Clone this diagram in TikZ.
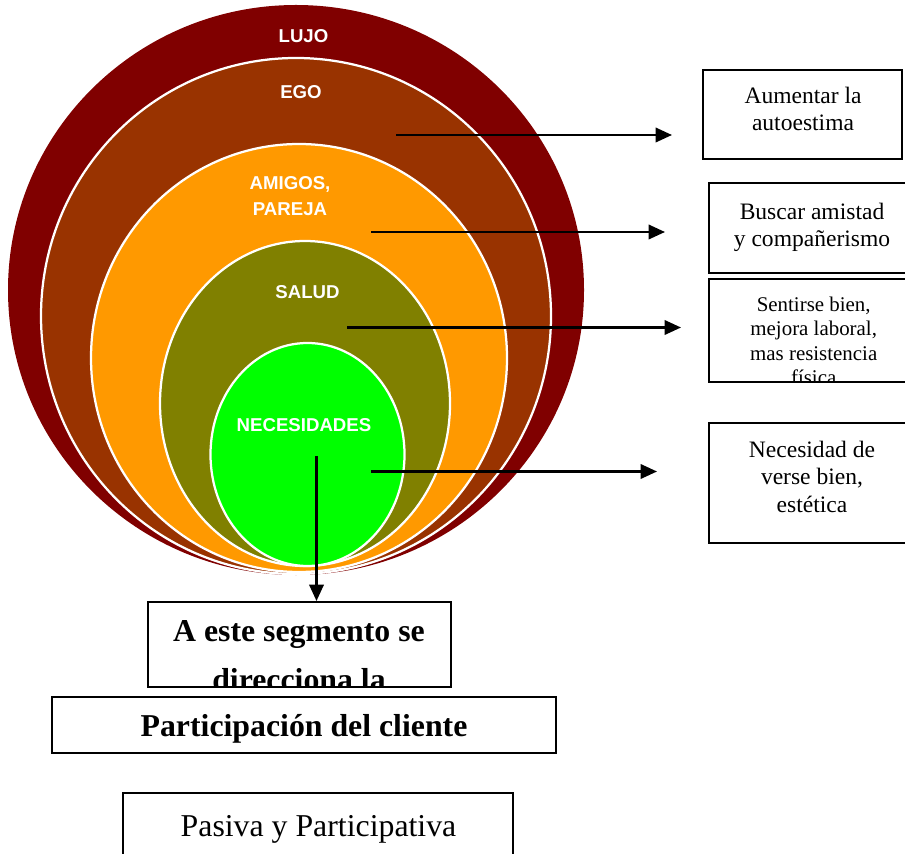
\documentclass[tikz,border=0pt]{standalone}
\usepackage{fontspec}
\setmainfont{Liberation Serif}
\setsansfont{Liberation Sans}
\usetikzlibrary{arrows.meta,positioning}
\definecolor{lujoRed}{HTML}{800000}
\definecolor{egoBrown}{HTML}{993300}
\definecolor{amigosOrange}{HTML}{FF9900}
\definecolor{saludOlive}{HTML}{808000}
\definecolor{necesidadGreen}{HTML}{00FF00}
\tikzset{
  ring/.style={draw=white, line width=0.045cm},
  ringText/.style={text=white, font=\sffamily\bfseries\fontsize{10.6}{14.6}\selectfont, align=center, inner sep=0pt},
  frameBox/.style={draw=black, line width=0.04cm, inner sep=0pt},
  goalText/.style={font=\fontsize{13.4}{15.7}\selectfont, align=center, inner sep=0pt},
  smallText/.style={font=\fontsize{11.9}{13.9}\selectfont, align=center, inner sep=0pt},
  bigText/.style={font=\fontsize{18.1}{28}\selectfont, align=center, inner sep=0pt},
  pointer/.style={line width=0.048cm, -{Triangle[length=0.33cm,width=0.29cm]}},
}
\begin{document}
\begin{tikzpicture}[x=0.02cm,y=-0.02cm]%
\clip (0,0) rectangle (905,854);%
%
\def\ringColor{lujoRed};%
\def\cx{296};%
\def\cy{290};%
\def\rx{288};%
\def\ry{285};%
\fill[\ringColor] (\cx,\cy) ellipse [x radius=\rx, y radius=\ry];%
\node[ringText] (lujo) at (303.5,36) {LUJO};%
%
\def\ringColor{egoBrown};%
\def\cx{296};%
\def\cy{316};%
\def\rx{255};%
\def\ry{258};%
\filldraw[ring, fill=\ringColor] (\cx,\cy) ellipse [x radius=\rx, y radius=\ry];%
\node[ringText] (ego) at (301,92) {EGO};%
%
\def\ringColor{amigosOrange};%
\def\cx{299};%
\def\cy{358};%
\def\rx{208};%
\def\ry{214};%
\filldraw[ring, fill=\ringColor] (\cx,\cy) ellipse [x radius=\rx, y radius=\ry];%
\node[ringText] (amigos) at (290,196) {AMIGOS,\\PAREJA};%
%
\def\ringColor{saludOlive};%
\def\cx{305};%
\def\cy{403.5};%
\def\rx{145};%
\def\ry{162.5};%
\filldraw[ring, fill=\ringColor] (\cx,\cy) ellipse [x radius=\rx, y radius=\ry];%
\node[ringText] (salud) at (307.5,292) {SALUD};%
%
\def\ringColor{necesidadGreen};%
\def\cx{307.5};%
\def\cy{454.5};%
\def\rx{97};%
\def\ry{111.5};%
\filldraw[ring, fill=\ringColor] (\cx,\cy) ellipse [x radius=\rx, y radius=\ry];%
\node[ringText] (necesidades) at (304,425) {NECESIDADES};%
%
% cuadros de la derecha
\node[frameBox, minimum width=3.98cm, minimum height=1.78cm] (autoestimaBox) at (802.5,114.5) {};%
\node[goalText] (autoestima) at (803,109) {Aumentar la\\autoestima};%
\node[frameBox, minimum width=4.12cm, minimum height=1.8cm] (amistadBox) at (812,228) {};%
\node[goalText] (amistad) at (812,227.5) {Buscar amistad\\y compañerismo};%
\node[frameBox, minimum width=4.12cm, minimum height=2.06cm] (bienBox) at (812,330.5) {};%
\begin{scope}%
\clip ([yshift=0.03cm]bienBox.south west) rectangle (bienBox.north east);%
\node[smallText] (bien) at (813.7,341) {Sentirse bien,\\mejora laboral,\\mas resistencia\\física};%
\end{scope}%
\node[frameBox, minimum width=4.12cm, minimum height=2.4cm] (esteticaBox) at (812,483) {};%
\node[goalText] (estetica) at (812,476.7) {Necesidad de\\verse bien,\\estética};%
%
% cuadros de abajo
\node[frameBox, minimum width=6.06cm, minimum height=1.7cm] (segmentoBox) at (299.4,644.5) {};%
\begin{scope}%
\clip ([yshift=0.03cm]segmentoBox.south west) rectangle (segmentoBox.north east);%
\node[bigText] (segmento) at (299,655.5) {\bfseries A este segmento se\\\bfseries direcciona la};%
\end{scope}%
\node[frameBox, minimum width=10.08cm, minimum height=1.12cm] (clienteBox) at (304,725) {};%
\node[bigText] (cliente) at (304,729) {\bfseries Participación del cliente};%
\node[frameBox, minimum width=7.8cm, minimum height=1.74cm] (pasivaBox) at (318,836.5) {};%
\node[bigText] (pasiva) at (318.5,829) {Pasiva y Participativa};%
%
% flechas
\coordinate (egoStart) at (396,135);%
\coordinate (egoEnd) at (672,135);%
\draw[pointer] (egoStart) -- (egoEnd);%
\coordinate (amigosStart) at (371,232);%
\coordinate (amigosEnd) at (665,232);%
\draw[pointer] (amigosStart) -- (amigosEnd);%
\coordinate (saludStart) at (347,327.5);%
\coordinate (saludEnd) at (681,327.5);%
\draw[pointer] (saludStart) -- (saludEnd);%
\coordinate (necStart) at (371,471.5);%
\coordinate (necEnd) at (657,471.5);%
\draw[pointer] (necStart) -- (necEnd);%
\coordinate (downStart) at (316.5,456);%
\draw[pointer] (downStart) -- (downStart |- segmentoBox.north);%
%
\end{tikzpicture}
\end{document}
